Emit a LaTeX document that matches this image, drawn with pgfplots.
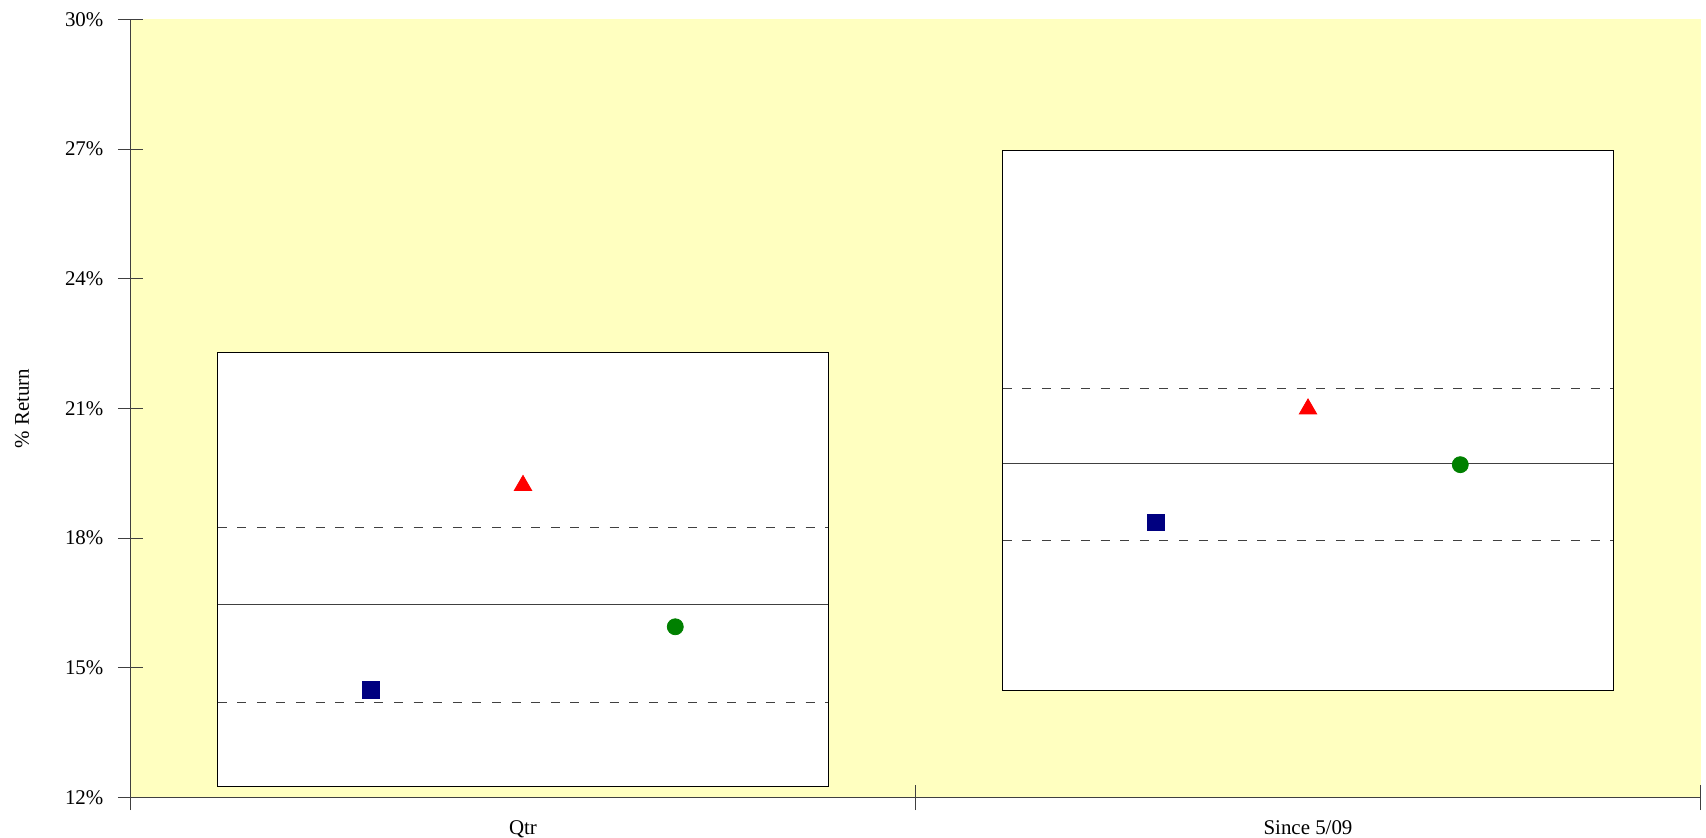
\documentclass[border=0pt]{standalone}
\usepackage{fontspec}
\setmainfont{Liberation Serif}
\usepackage{pgfplots}
\pgfplotsset{compat=1.18}
\definecolor{bgyellow}{RGB}{255,255,192}
\definecolor{navyc}{RGB}{0,0,128}
\definecolor{greenc}{RGB}{0,128,0}
\definecolor{axgray}{RGB}{64,64,64}
\begin{document}
\begin{tikzpicture}
\begin{axis}[
  scale only axis,
  width=785bp, height=389bp,
  at={(0,0)}, anchor=south west,
  xmin=0, xmax=2, ymin=12, ymax=30,
  axis x line=bottom, axis y line=left,
  axis line style={draw=axgray, line width=0.6bp, -},
  axis background/.style={fill=bgyellow},
  tick align=center,
  ytick={12,15,18,21,24,27,30},
  yticklabel={\pgfmathprintnumber{\tick}\%},
  xtick={0.5,1.5},
  xticklabels={Qtr, Since 5/09},
  minor xtick={0,1,2},
  major x tick style={draw=none},
  major tick length=12.5bp,
  minor tick length=12.5bp,
  every tick/.style={draw=axgray, line width=0.6bp},
  /pgf/number format/assume math mode=true,
  tick label style={font=\fontsize{10.5}{12}\selectfont},
  yticklabel style={xshift=-3.8bp},
  xticklabel style={yshift=-1.6bp},
  ylabel={\% Return},
  every axis y label/.style={at={(axis description cs:-0.0691,0.5)}, rotate=90, anchor=center, font=\fontsize{10.5}{12}\selectfont},
  clip=false,
]
% boxes
\addplot[draw=black, line width=0.5bp, fill=white] coordinates {(0.111,12.25) (0.889,12.25) (0.889,22.30) (0.111,22.30)} -- cycle;
\addplot[draw=black, line width=0.5bp, fill=white] coordinates {(1.111,14.47) (1.889,14.47) (1.889,26.98) (1.111,26.98)} -- cycle;
% medians
\addplot[draw=axgray, line width=0.6bp] coordinates {(0.111,16.46) (0.889,16.46)};
\addplot[draw=axgray, line width=0.6bp] coordinates {(1.111,19.73) (1.889,19.73)};
% quartile dashed lines
\addplot[draw=axgray, line width=0.6bp, dash pattern=on 4.5bp off 5.3bp] coordinates {(0.111,18.24) (0.889,18.24)};
\addplot[draw=axgray, line width=0.6bp, dash pattern=on 4.5bp off 5.3bp] coordinates {(0.111,14.19) (0.889,14.19)};
\addplot[draw=axgray, line width=0.6bp, dash pattern=on 4.5bp off 5.3bp] coordinates {(1.111,21.47) (1.889,21.47)};
\addplot[draw=axgray, line width=0.6bp, dash pattern=on 4.5bp off 5.3bp] coordinates {(1.111,17.94) (1.889,17.94)};
% markers
\addplot[only marks, mark=square*, mark size=4.1bp, color=navyc] coordinates {(0.306,14.49) (1.306,18.37)};
\addplot[only marks, mark=triangle*, mark size=5bp, color=red] coordinates {(0.5,19.22) (1.5,20.99)};
\addplot[only marks, mark=*, mark size=4bp, color=greenc] coordinates {(0.694,15.95) (1.694,19.70)};
\end{axis}
\pgfresetboundingbox
\path (-65.25bp,-20.25bp) rectangle (787.75bp,398.75bp);
\end{tikzpicture}
\end{document}
